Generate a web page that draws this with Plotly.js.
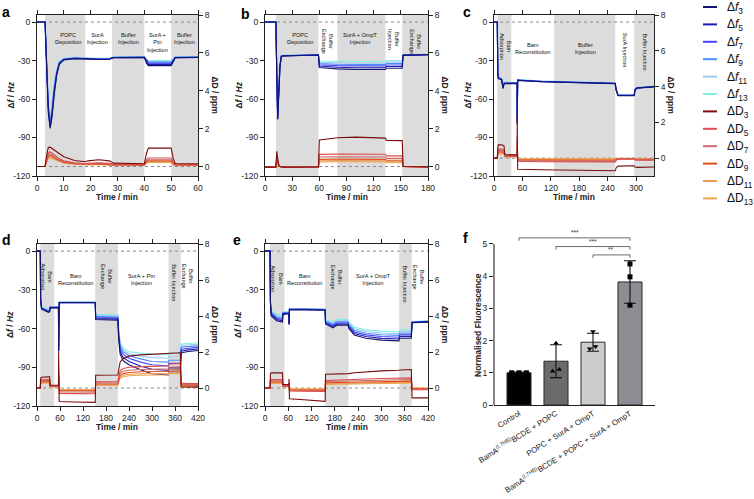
<!DOCTYPE html>
<html><head><meta charset="utf-8">
<script src="https://cdn.plot.ly/plotly-3.0.1.min.js"></script>
<style>html,body{margin:0;padding:0;background:#fff}</style>
</head><body><div id="chart" style="width:754px;height:499px"></div>
<script>
// ---------------- DATA ----------------
const fNames = ['Δ<i>f</i><sub>3</sub>','Δ<i>f</i><sub>5</sub>','Δ<i>f</i><sub>7</sub>','Δ<i>f</i><sub>9</sub>','Δ<i>f</i><sub>11</sub>','Δ<i>f</i><sub>13</sub>'];
const dNames = ['ΔD<sub>3</sub>','ΔD<sub>5</sub>','ΔD<sub>7</sub>','ΔD<sub>9</sub>','ΔD<sub>11</sub>','ΔD<sub>13</sub>'];

// Panel a
const aTime = [0, 3, 3.6, 4.2, 4.9, 5.6, 6.4, 7.3, 8.3, 10, 14, 18, 19, 23, 27, 28.5, 40, 40.8, 41.5, 50, 50.8, 51.5, 60];
const aF3  = [0, 0, -35, -70, -83, -74, -57, -42, -33, -29.5, -28.5, -28.8, -29, -29.2, -29, -27.8, -27.6, -32, -34, -34, -31, -27.8, -27.6];
const aF5  = [0, 0, -34, -68, -82, -72, -55, -41, -32.5, -29.2, -28.3, -28.6, -28.8, -29, -28.8, -27.7, -27.5, -31, -33, -33, -30, -27.7, -27.5];
const aF7  = [0, 0, -33, -66, -80, -70, -53, -40, -32, -29, -28.2, -28.5, -28.7, -28.9, -28.7, -27.6, -27.4, -30.5, -32, -32, -29.5, -27.6, -27.4];
const aF9  = [0, 0, -32, -65, -79, -68, -51, -39, -31.5, -28.8, -28, -28.3, -28.5, -28.7, -28.5, -27.5, -27.3, -30, -31.3, -31.3, -29, -27.5, -27.3];
const aF11 = [0, 0, -31, -63, -77, -66, -49, -38, -31, -28.5, -27.7, -28, -28.2, -28.4, -28.2, -27.3, -27.1, -29.5, -30.7, -30.7, -28.8, -27.3, -27.1];
const aF13 = [0, 0, -30, -61, -76, -64, -47, -37, -30.5, -28.2, -27.5, -27.8, -28, -28.2, -28, -27.1, -26.9, -29, -30, -30, -28.5, -27.1, -26.9];
const aD3  = [0, 0, 0.6, 1.0, 1.02, 0.95, 0.88, 0.8, 0.72, 0.52, 0.32, 0.25, 0.3, 0.36, 0.3, 0.18, 0.15, 0.7, 0.97, 0.97, 0.4, 0.16, 0.15];
const aD5  = [0, 0, 0.4, 0.72, 0.78, 0.7, 0.62, 0.52, 0.42, 0.3, 0.2, 0.15, 0.17, 0.2, 0.17, 0.1, 0.1, 0.35, 0.45, 0.45, 0.2, 0.1, 0.1];
const aD7  = [0, 0, 0.35, 0.62, 0.68, 0.62, 0.53, 0.44, 0.36, 0.26, 0.17, 0.13, 0.14, 0.17, 0.15, 0.09, 0.09, 0.28, 0.36, 0.36, 0.17, 0.09, 0.09];
const aD9  = [0, 0, 0.3, 0.54, 0.6, 0.55, 0.46, 0.38, 0.31, 0.22, 0.15, 0.11, 0.12, 0.14, 0.12, 0.08, 0.08, 0.24, 0.3, 0.3, 0.14, 0.08, 0.08];
const aD11 = [0, 0, 0.26, 0.47, 0.52, 0.48, 0.4, 0.33, 0.27, 0.2, 0.13, 0.1, 0.1, 0.12, 0.1, 0.07, 0.07, 0.2, 0.25, 0.25, 0.12, 0.07, 0.07];
const aD13 = [0, 0, 0.22, 0.41, 0.46, 0.42, 0.36, 0.3, 0.24, 0.18, 0.12, 0.09, 0.09, 0.1, 0.09, 0.06, 0.06, 0.17, 0.22, 0.22, 0.1, 0.06, 0.06];
const aTicks = [0, 10, 20, 30, 40, 50, 60];
const aGray = [[3, 18], [28, 40], [50, 60]];
const aLabelText = ['POPC<br>Deposition', 'SurA<br>Injection', 'Buffer<br>Injection', 'SurA +<br>Ptn<br>Injection', 'Buffer<br>Injection'];
const aLabelX = [11.5, 22.5, 34, 45, 55];
const aLabelVert = [0, 0, 0, 0, 0];

// Panel b
const bTime = [0, 12, 13, 14, 15, 16.5, 18, 20, 59, 60, 80, 100, 133, 134, 151.5, 152.5, 180];
const bF3  = [0, 0, -40, -76, -60, -35, -27, -26.5, -25.7, -35.5, -36.5, -37, -37, -36, -36, -26, -25.5];
const bF5  = [0, 0, -39.5, -75.5, -59, -34.5, -26.8, -26.4, -25.7, -34.3, -35.2, -35.6, -35.6, -34.7, -34.7, -25.9, -25.4];
const bF7  = [0, 0, -39, -75, -58, -34, -26.6, -26.3, -25.6, -33.3, -34, -34.3, -34.3, -33.5, -33.5, -25.8, -25.4];
const bF9  = [0, 0, -38.5, -74, -57.5, -33.8, -26.4, -26.2, -25.6, -32.3, -32.9, -33.2, -33.2, -32.3, -32.3, -25.7, -25.3];
const bF11 = [0, 0, -38, -73, -57, -33.5, -26.2, -26.1, -25.5, -31.3, -31.7, -32.1, -32.1, -31.2, -31.2, -25.6, -25.3];
const bF13 = [0, 0, -37, -72, -56, -33, -26, -26, -25.5, -30.3, -30.5, -31, -31, -30, -30, -25.5, -25.2];
const bD3  = [-0.03, -0.03, 0.8, 0.5, 0.12, 0, -0.02, -0.03, -0.02, 1.4, 1.52, 1.55, 1.5, 1.38, 1.37, 0, -0.02];
const bD5  = [-0.03, -0.03, 0.55, 0.35, 0.08, 0, -0.02, -0.03, -0.02, 0.64, 0.66, 0.66, 0.65, 0.56, 0.56, 0, -0.02];
const bD7  = [-0.03, -0.03, 0.46, 0.3, 0.07, 0, -0.02, -0.03, -0.02, 0.5, 0.51, 0.51, 0.5, 0.43, 0.43, 0, -0.02];
const bD9  = [-0.03, -0.03, 0.38, 0.25, 0.06, 0, -0.02, -0.03, -0.02, 0.38, 0.39, 0.39, 0.38, 0.33, 0.33, 0, -0.02];
const bD11 = [-0.03, -0.03, 0.32, 0.21, 0.05, 0, -0.02, -0.03, -0.02, 0.3, 0.31, 0.31, 0.3, 0.26, 0.26, 0, -0.02];
const bD13 = [-0.03, -0.03, 0.27, 0.18, 0.04, 0, -0.02, -0.03, -0.02, 0.24, 0.25, 0.25, 0.24, 0.2, 0.2, 0, -0.02];
const bTicks = [0, 30, 60, 90, 120, 150, 180];
const bGray = [[12, 59], [80, 133], [151.5, 180]];
const bLabelText = ['POPC<br>Deposition', 'Buffer<br>Exchange', 'SurA + OmpT<br>Injection', 'Buffer<br>Injection', 'Buffer<br>Exchange'];
const bLabelX = [39, 69, 106, 142, 166];
const bLabelVert = [0, 1, 0, 1, 1];

// Panel c
const cTime = [0, 7, 8, 9, 16, 19, 21, 23, 36, 48.9, 49, 49.1, 50, 100, 150, 200, 256, 258, 262, 296, 298, 302, 338];
const cF3  = [0, 0, -40, -44, -45, -52, -48.5, -48, -48, -48, -80, -46, -45.5, -46.5, -47, -47.5, -48, -53, -57.5, -57.5, -53, -51.5, -50.5];
const cF5  = [0, 0, -39.5, -43.8, -44.8, -51.2, -48.3, -47.8, -47.8, -47.8, -79, -45.9, -45.4, -46.4, -46.9, -47.4, -47.9, -52.8, -57.3, -57.3, -52.8, -51.4, -50.4];
const cF7  = [0, 0, -39, -43.5, -44.5, -50.5, -48, -47.6, -47.6, -47.6, -78, -45.7, -45.3, -46.3, -46.8, -47.3, -47.8, -52.6, -57.1, -57.1, -52.6, -51.3, -50.3];
const cF9  = [0, 0, -38.5, -43.2, -44.2, -49.8, -47.7, -47.4, -47.4, -47.4, -77, -45.5, -45.2, -46.2, -46.7, -47.2, -47.7, -52.4, -56.9, -56.9, -52.4, -51.2, -50.2];
const cF11 = [0, 0, -38, -42.8, -43.8, -49, -47.4, -47.2, -47.2, -47.2, -76, -45.3, -45, -46, -46.5, -47, -47.5, -52.2, -56.7, -56.7, -52.2, -51, -50];
const cF13 = [0, 0, -37.5, -42.5, -43.5, -48.5, -47.2, -47, -47, -47, -75, -45.2, -44.9, -45.9, -46.4, -46.9, -47.4, -52, -56.5, -56.5, -52, -50.9, -49.9];
const cD3  = [0, 0, 0.55, 0.74, 0.74, 0.72, 0.7, 0.2, 0.18, 0.18, 2.3, -0.6, -0.62, -0.65, -0.68, -0.7, -0.71, -0.55, -0.45, -0.43, -0.5, -0.52, -0.5];
const cD5  = [0, 0, 0.38, 0.5, 0.5, 0.48, 0.46, 0.14, 0.13, 0.13, 1.2, -0.17, -0.18, -0.2, -0.2, -0.21, -0.21, -0.12, -0.06, -0.06, -0.11, -0.12, -0.12];
const cD7  = [0, 0, 0.33, 0.42, 0.42, 0.4, 0.38, 0.12, 0.11, 0.11, 0.9, -0.13, -0.14, -0.16, -0.16, -0.17, -0.17, -0.09, -0.04, -0.04, -0.08, -0.09, -0.09];
const cD9  = [0, 0, 0.28, 0.35, 0.35, 0.33, 0.32, 0.1, 0.09, 0.09, 0.7, -0.09, -0.1, -0.11, -0.11, -0.12, -0.12, -0.06, -0.02, -0.02, -0.05, -0.06, -0.06];
const cD11 = [0, 0, 0.24, 0.3, 0.3, 0.28, 0.27, 0.08, 0.07, 0.07, 0.5, -0.06, -0.07, -0.07, -0.08, -0.08, -0.08, -0.04, -0.01, -0.01, -0.03, -0.04, -0.04];
const cD13 = [0, 0, 0.2, 0.25, 0.25, 0.24, 0.23, 0.07, 0.06, 0.06, 0.4, -0.03, -0.03, -0.04, -0.04, -0.04, -0.04, -0.02, 0, 0, -0.01, -0.02, -0.02];
const cTicks = [0, 60, 120, 180, 240, 300];
const cGray = [[7, 36.6], [127, 256], [296, 338]];
const cLabelText = ['Bam<br>Adsorption', 'Bam<br>Reconstitution', 'Buffer<br>Injection', 'SurA Injection', 'Buffer Injection'];
const cLabelX = [24, 82, 194, 276, 317];
const cLabelVert = [1, 0, 0, 1, 1];

// Panel d
const dTime = [0, 8.6, 9.5, 12, 30, 33, 34, 56, 56.5, 57, 58, 100, 152, 153, 211, 213, 217, 225, 240, 270, 300, 343, 344, 374, 376, 390, 420];
const dF3  = [0, 0, -38, -45, -47.5, -47, -44, -44, -78, -41, -40, -40, -40, -53, -53.5, -68, -80, -85, -88, -92, -95, -96, -93.5, -93.5, -79, -78, -77];
const dF5  = [0, 0, -37.6, -44.6, -47.1, -46.6, -43.8, -43.8, -77.5, -40.8, -39.9, -39.9, -39.9, -52.2, -52.7, -66, -78, -82.5, -85.5, -89, -91.5, -92.5, -90.5, -90.5, -77.5, -76.7, -75.8];
const dF7  = [0, 0, -37.2, -44.2, -46.7, -46.2, -43.6, -43.6, -77, -40.6, -39.8, -39.8, -39.8, -51.4, -51.9, -64, -76, -80, -83, -86, -88, -89, -87, -87, -76, -75.4, -74.6];
const dF9  = [0, 0, -36.8, -43.8, -46.3, -45.8, -43.4, -43.4, -76.5, -40.4, -39.7, -39.7, -39.7, -50.6, -51.1, -62.5, -74, -78, -81, -83.5, -85.5, -86, -84.5, -84.5, -74.5, -74, -73.4];
const dF11 = [0, 0, -36.4, -43.4, -45.9, -45.4, -43.2, -43.2, -76.2, -40.2, -39.6, -39.6, -39.6, -49.8, -50.3, -61, -72.5, -76.5, -79.5, -81.5, -82.5, -83, -81.5, -81.5, -73, -72.7, -72.2];
const dF13 = [0, 0, -36, -43, -45.5, -45, -43, -43, -76, -40, -39.5, -39.5, -39.5, -49, -49.5, -60, -71, -75, -78, -79, -79.7, -80.5, -79, -79, -72, -71.5, -71];
const dD3  = [0, 0, 0.55, 0.6, 0.62, 0.62, 0.15, 0.15, 2.0, -0.72, -0.75, -0.78, -0.8, 0.71, 0.72, 1.0, 1.45, 1.65, 1.77, 1.84, 1.88, 1.92, 1.94, 1.96, 0.06, 0.05, 0.05];
const dD5  = [0, 0, 0.4, 0.45, 0.47, 0.47, 0.1, 0.1, 1.0, -0.28, -0.3, -0.31, -0.32, 0.34, 0.35, 0.6, 0.95, 1.08, 1.15, 1.19, 1.21, 1.22, 1.33, 1.36, 0.27, 0.25, 0.25];
const dD7  = [0, 0, 0.35, 0.4, 0.41, 0.41, 0.09, 0.09, 0.8, -0.2, -0.22, -0.22, -0.23, 0.28, 0.29, 0.5, 0.82, 0.93, 0.99, 1.03, 1.05, 1.06, 1.15, 1.17, 0.2, 0.19, 0.19];
const dD9  = [0, 0, 0.3, 0.35, 0.36, 0.36, 0.08, 0.08, 0.6, -0.14, -0.15, -0.15, -0.16, 0.22, 0.23, 0.42, 0.7, 0.8, 0.86, 0.9, 0.92, 0.93, 1.0, 1.02, 0.15, 0.14, 0.14];
const dD11 = [0, 0, 0.26, 0.3, 0.31, 0.31, 0.07, 0.07, 0.5, -0.11, -0.12, -0.12, -0.12, 0.18, 0.19, 0.36, 0.62, 0.71, 0.76, 0.79, 0.81, 0.82, 0.88, 0.9, 0.11, 0.1, 0.1];
const dD13 = [0, 0, 0.22, 0.26, 0.27, 0.27, 0.06, 0.06, 0.4, -0.08, -0.09, -0.09, -0.1, 0.15, 0.16, 0.32, 0.55, 0.63, 0.68, 0.71, 0.73, 0.74, 0.79, 0.8, 0.08, 0.08, 0.08];
const dTicks = [0, 60, 120, 180, 240, 300, 360, 420];
const dGray = [[8.6, 45], [152, 211], [343, 375]];
const dLabelText = ['Bam<br>Adsorption', 'Bam<br>Reconstitution', 'Buffer<br>Exchange', 'SurA + Ptn<br>Injection', 'Buffer Injection', 'Buffer<br>Exchange'];
const dLabelX = [26, 100, 181, 273, 358, 393];
const dLabelVert = [1, 0, 1, 0, 1, 1];

// Panel e
const eTime = [0, 13, 14, 16, 30, 45, 46, 61.5, 62, 62.5, 63, 100, 155, 156, 175, 185, 214, 216, 230, 260, 300, 345, 347, 377, 379, 420];
const eF3  = [0, 0, -40, -50, -54, -55, -49, -48.5, -57, -47, -45.5, -45.5, -45.8, -56.5, -59.5, -57.5, -57.5, -60, -65, -67.5, -69, -69.5, -67.5, -67.5, -55.5, -55];
const eF5  = [0, 0, -39.6, -49.2, -53, -54, -48.6, -48.2, -56.6, -46.6, -45.3, -45.3, -45.6, -55.8, -58.6, -56.6, -56.6, -59, -63.8, -66.2, -67.6, -68.1, -66.2, -66.2, -55.3, -54.8];
const eF7  = [0, 0, -39.2, -48.4, -52, -53, -48.2, -47.9, -56.2, -46.2, -45.1, -45.1, -45.4, -55.1, -57.7, -55.7, -55.7, -58, -62.6, -64.9, -66.2, -66.7, -64.9, -64.9, -55.1, -54.6];
const eF9  = [0, 0, -38.8, -47.6, -51, -52, -47.8, -47.6, -55.8, -45.8, -44.9, -44.9, -45.2, -54.4, -56.8, -54.8, -54.8, -57, -61.4, -63.6, -64.8, -65.3, -63.6, -63.6, -54.9, -54.4];
const eF11 = [0, 0, -38.4, -46.8, -50, -51, -47.4, -47.3, -55.4, -45.4, -44.7, -44.7, -45, -53.7, -55.9, -53.9, -53.9, -56, -60.2, -62.3, -63.4, -63.9, -62.3, -62.3, -54.7, -54.2];
const eF13 = [0, 0, -38, -46, -49, -50, -47, -47, -55, -45, -44.5, -44.5, -44.8, -53, -55, -53, -53, -55, -59, -61, -62, -62.5, -61, -61, -54.5, -54];
const eD3  = [0, 0, 0.8, 0.84, 0.84, 0.84, 0.2, 0.19, 0.5, -0.6, -0.6, -0.65, -0.74, 0.76, 0.77, 0.78, 0.8, 0.8, 0.85, 0.9, 0.95, 0.99, 1.0, 1.03, -0.55, -0.55];
const eD5  = [0, 0, 0.45, 0.47, 0.47, 0.47, 0.12, 0.12, 0.3, -0.16, -0.17, -0.18, -0.19, 0.42, 0.43, 0.43, 0.44, 0.44, 0.47, 0.5, 0.53, 0.55, 0.55, 0.56, -0.1, -0.1];
const eD7  = [0, 0, 0.38, 0.4, 0.4, 0.4, 0.1, 0.1, 0.25, -0.13, -0.14, -0.15, -0.16, 0.36, 0.37, 0.37, 0.38, 0.38, 0.4, 0.42, 0.44, 0.46, 0.46, 0.47, -0.07, -0.07];
const eD9  = [0, 0, 0.32, 0.34, 0.34, 0.34, 0.09, 0.09, 0.2, -0.1, -0.11, -0.12, -0.12, 0.29, 0.3, 0.3, 0.31, 0.31, 0.32, 0.34, 0.36, 0.37, 0.37, 0.38, -0.04, -0.04];
const eD11 = [0, 0, 0.27, 0.29, 0.29, 0.29, 0.08, 0.08, 0.16, -0.07, -0.08, -0.08, -0.09, 0.24, 0.25, 0.25, 0.26, 0.26, 0.27, 0.28, 0.3, 0.31, 0.31, 0.31, -0.02, -0.02];
const eD13 = [0, 0, 0.23, 0.25, 0.25, 0.25, 0.07, 0.07, 0.12, -0.04, -0.05, -0.05, -0.05, 0.2, 0.21, 0.21, 0.21, 0.21, 0.22, 0.23, 0.25, 0.26, 0.26, 0.26, 0, 0];
const eTicks = [0, 60, 120, 180, 240, 300, 360, 420];
const eGray = [[13, 50], [155, 215], [346, 378]];
const eLabelText = ['Bam<br>Adsorption', 'Bam<br>Reconstitution', 'Buffer<br>Exchange', 'SurA + OmpT<br>Injection', 'Buffer Injection', 'Buffer<br>Exchange'];
const eLabelX = [31, 103, 185, 279, 361, 396];
const eLabelVert = [1, 0, 1, 0, 1, 1];

// Shared axis ticks
const fTickVals = [-120, -90, -60, -30, 0];
const fTickText = ['-120', '-90', '-60', '-30', '0'];
const dTickVals = [0, 2, 4, 6, 8];

// Panel f (bar chart)
const barCats = ['Control', 'BamA<sup>(L7HB)</sup>BCDE + POPC', 'POPC + SurA + OmpT', 'BamA<sup>(L7HB)</sup>BCDE + POPC + SurA + OmpT'];
const barVals = [1.0, 1.36, 1.95, 3.82];
const barErr = [0.02, 0.51, 0.28, 0.66];
const barColors = ['#000000', '#6b6b6b', '#cdcdcd', '#8d8d93'];
const pts0 = [1.0, 1.0, 1.0];
const pts1 = [1.92, 1.05, 1.1];
const pts2 = [2.28, 1.75, 1.82];
const pts3 = [4.38, 3.98, 3.1];
const ptsJitter0 = [-0.2, 0, 0.2];
const ptsJitter1 = [0, -0.09, 0.09];
const ptsJitter2 = [0, -0.09, 0.07];
const ptsJitter3 = [0, 0, 0];
const ptsSymbols = ['square', 'triangle-up', 'triangle-down', 'square'];
const sigPairs = [[0, 3], [1, 3], [2, 3]];
const sigText = ['***', '***', '**'];
const sigLevel = [5.19, 4.92, 4.66];

// ---------------- STYLE ----------------
const W = 754, H = 499;
const FONT = 'Liberation Sans, Arial, sans-serif';
const fColors = ['#14146e', '#1c1cb0', '#4545ff', '#4a8cff', '#9ccaf2', '#7feee8'];
const dColors = ['#7a0c0c', '#e04b4b', '#c86a6a', '#e0501e', '#e89a5a', '#f2a64a'];
const px = v => v / W;
const py = v => 1 - v / H;

const panels = [
  {time: aTime, f: [aF3, aF5, aF7, aF9, aF11, aF13], d: [aD3, aD5, aD7, aD9, aD11, aD13], xr: [0, 60], xt: aTicks, dr: [-0.5, 8], gray: aGray, lt: aLabelText, lx: aLabelX, lv: aLabelVert, box: {l: 37, r: 198, t: 15, b: 176}, hOff: 15, vOff: 12, letter: 'a', lp: [6, 12]},
  {time: bTime, f: [bF3, bF5, bF7, bF9, bF11, bF13], d: [bD3, bD5, bD7, bD9, bD11, bD13], xr: [0, 180], xt: bTicks, dr: [-0.5, 8], gray: bGray, lt: bLabelText, lx: bLabelX, lv: bLabelVert, box: {l: 265, r: 428, t: 15, b: 176}, hOff: 15, vOff: 12, letter: 'b', lp: [245, 14]},
  {time: cTime, f: [cF3, cF5, cF7, cF9, cF11, cF13], d: [cD3, cD5, cD7, cD9, cD11, cD13], xr: [0, 338], xt: cTicks, dr: [-1, 8], gray: cGray, lt: cLabelText, lx: cLabelX, lv: cLabelVert, box: {l: 494, r: 654, t: 15, b: 176}, hOff: 25, vOff: 16, letter: 'c', lp: [467, 12]},
  {time: dTime, f: [dF3, dF5, dF7, dF9, dF11, dF13], d: [dD3, dD5, dD7, dD9, dD11, dD13], xr: [0, 420], xt: dTicks, dr: [-1, 8], gray: dGray, lt: dLabelText, lx: dLabelX, lv: dLabelVert, box: {l: 37, r: 198, t: 244, b: 406}, hOff: 27, vOff: 18, letter: 'd', lp: [6, 240]},
  {time: eTime, f: [eF3, eF5, eF7, eF9, eF11, eF13], d: [eD3, eD5, eD7, eD9, eD11, eD13], xr: [0, 420], xt: eTicks, dr: [-1, 8], gray: eGray, lt: eLabelText, lx: eLabelX, lv: eLabelVert, box: {l: 265, r: 428, t: 244, b: 406}, hOff: 27, vOff: 19, letter: 'e', lp: [237, 240]}
];

const traces = [];
const shapes = [];
const annotations = [];
const layout = {
  width: W, height: H, margin: {l: 0, r: 0, t: 0, b: 0},
  paper_bgcolor: '#ffffff', plot_bgcolor: 'rgba(0,0,0,0)',
  showlegend: false, font: {family: FONT, color: '#222', size: 9}
};
const axName = (c, n) => n === 1 ? c + 'axis' : c + 'axis' + n;
const axRef = (c, n) => n === 1 ? c : c + n;
const tickFont = {family: FONT, size: 8.5, color: '#222'};
const axisCommon = {showline: true, linecolor: '#222', linewidth: 1.1, ticks: 'outside', ticklen: 4, tickwidth: 1, tickcolor: '#222', tickfont: tickFont, zeroline: false, showgrid: false, fixedrange: true, automargin: false};

panels.forEach((p, k) => {
  const xn = k + 1, yl = 2 * k + 1, yr = 2 * k + 2;
  const xr = axRef('x', xn), ylr = axRef('y', yl), yrr = axRef('y', yr);
  const b = p.box;
  // draw higher overtones first so the fundamental (darkest) lies on top
  for (let i = p.f.length - 1; i >= 0; i--) {
    traces.push({type: 'scatter', mode: 'lines', x: p.time, y: p.f[i], xaxis: xr, yaxis: ylr, line: {color: fColors[i], width: 1.1}, hoverinfo: 'skip', showlegend: false});
  }
  for (let i = p.d.length - 1; i >= 0; i--) {
    traces.push({type: 'scatter', mode: 'lines', x: p.time, y: p.d[i], xaxis: xr, yaxis: yrr, line: {color: dColors[i], width: 1.1}, hoverinfo: 'skip', showlegend: false});
  }
  layout[axName('x', xn)] = Object.assign({}, axisCommon, {domain: [px(b.l), px(b.r)], range: p.xr, anchor: ylr, tickvals: p.xt, mirror: 'ticks'});
  layout[axName('y', yl)] = Object.assign({}, axisCommon, {domain: [py(b.b), py(b.t)], range: [-120, 5.5], anchor: xr, tickvals: fTickVals, ticktext: fTickText});
  layout[axName('y', yr)] = Object.assign({}, axisCommon, {overlaying: ylr, side: 'right', range: p.dr, anchor: xr, tickvals: dTickVals});
  p.gray.forEach(g => shapes.push({type: 'rect', xref: xr, yref: ylr + ' domain', x0: g[0], x1: g[1], y0: 0, y1: 1, fillcolor: '#dcdcdc', line: {width: 0}, layer: 'below'}));
  shapes.push({type: 'line', xref: xr + ' domain', yref: ylr, x0: 0, x1: 1, y0: 0, y1: 0, line: {color: '#8a8a8a', width: 1, dash: 'dot'}, layer: 'below'});
  shapes.push({type: 'line', xref: xr + ' domain', yref: yrr, x0: 0, x1: 1, y0: 0, y1: 0, line: {color: '#8a8a8a', width: 1, dash: 'dot'}, layer: 'below'});
  p.lt.forEach((t, i) => {
    const vert = p.lv[i] === 1;
    annotations.push({xref: xr, yref: 'paper', x: p.lx[i], y: py(b.t + (vert ? p.vOff : p.hOff)), text: t, showarrow: false, textangle: vert ? 90 : 0, xanchor: 'center', yanchor: 'top', align: 'center', font: {family: FONT, size: 5.6, color: '#111'}});
  });
  annotations.push({xref: 'paper', yref: 'paper', x: px((b.l + b.r) / 2), y: py(b.b + 21), text: '<b>Time / min</b>', showarrow: false, xanchor: 'center', yanchor: 'middle', font: {family: FONT, size: 8.5, color: '#222'}});
  annotations.push({xref: 'paper', yref: 'paper', x: px(b.l - 27), y: py((b.t + b.b) / 2), text: '<b>Δ<i>f</i> / <i>Hz</i></b>', showarrow: false, textangle: -90, xanchor: 'center', yanchor: 'middle', font: {family: FONT, size: 8.5, color: '#222'}});
  annotations.push({xref: 'paper', yref: 'paper', x: px(b.r + 17), y: py((b.t + b.b) / 2), text: '<b>ΔD / ppm</b>', showarrow: false, textangle: 90, xanchor: 'center', yanchor: 'middle', font: {family: FONT, size: 8.5, color: '#222'}});
  annotations.push({xref: 'paper', yref: 'paper', x: px(p.lp[0]), y: py(p.lp[1]), text: '<b>' + p.letter + '</b>', showarrow: false, xanchor: 'center', yanchor: 'middle', font: {family: FONT, size: 14, color: '#000'}});
});

// ---------------- Panel f ----------------
const fx = 'x6', fy = 'y11';
const catIdx = barCats.map((c, i) => i);
traces.push({type: 'bar', x: catIdx, y: barVals, xaxis: fx, yaxis: fy, width: 0.65, marker: {color: barColors, line: {color: '#2a2a2a', width: 1}}, error_y: {type: 'data', array: barErr, visible: true, color: '#111', thickness: 1.1, width: 6}, hoverinfo: 'skip', showlegend: false});
const ptsSets = [pts0, pts1, pts2, pts3];
const jitSets = [ptsJitter0, ptsJitter1, ptsJitter2, ptsJitter3];
ptsSets.forEach((vals, i) => {
  traces.push({type: 'scatter', mode: 'markers', x: vals.map((v, j) => catIdx[i] + jitSets[i][j]), y: vals, xaxis: fx, yaxis: fy, marker: {symbol: ptsSymbols[i], size: 5, color: '#000'}, hoverinfo: 'skip', showlegend: false, cliponaxis: false});
});
const fb = {l: 494, r: 655, t: 232.7, b: 405};
layout.xaxis6 = Object.assign({}, axisCommon, {domain: [px(fb.l), px(fb.r)], range: [-0.676, 3.676], anchor: fy, tickvals: catIdx, ticktext: barCats, ticks: '', tickangle: -32, tickfont: {family: FONT, size: 7.8, color: '#222'}});
layout.yaxis11 = Object.assign({}, axisCommon, {domain: [py(fb.b), py(fb.t)], range: [0, 5.35], anchor: fx, tickvals: [0, 1, 2, 3, 4, 5], showline: false});
shapes.push({type: 'line', xref: 'x6 domain', yref: fy, x0: 0, x1: 0, y0: 0, y1: 5, line: {color: '#222', width: 1.1}});
sigPairs.forEach((pr, i) => {
  const y = sigLevel[i];
  shapes.push({type: 'path', xref: fx, yref: fy, path: 'M ' + pr[0] + ',' + (y - 0.09) + ' L ' + pr[0] + ',' + y + ' L ' + pr[1] + ',' + y + ' L ' + pr[1] + ',' + (y - 0.09), line: {color: '#444', width: 0.8}});
  annotations.push({xref: fx, yref: fy, x: (pr[0] + pr[1]) / 2, y: y, text: sigText[i], showarrow: false, xanchor: 'center', yanchor: 'bottom', font: {family: FONT, size: 6.5, color: '#333'}});
});
annotations.push({xref: 'paper', yref: 'paper', x: px(478), y: py(325), text: '<b>Normalised Fluorescence</b>', showarrow: false, textangle: -90, xanchor: 'center', yanchor: 'middle', font: {family: FONT, size: 8.5, color: '#222'}});
annotations.push({xref: 'paper', yref: 'paper', x: px(465), y: py(238), text: '<b>f</b>', showarrow: false, xanchor: 'center', yanchor: 'middle', font: {family: FONT, size: 14, color: '#000'}});

// ---------------- Legend (manual) ----------------
const legNames = fNames.concat(dNames);
const legColors = fColors.concat(dColors);
legNames.forEach((n, i) => {
  const y = 7 + 17.4 * i;
  shapes.push({type: 'line', xref: 'paper', yref: 'paper', x0: px(703), x1: px(717), y0: py(y), y1: py(y), line: {color: legColors[i], width: 2}});
  annotations.push({xref: 'paper', yref: 'paper', x: px(725), y: py(y + 1), text: n, showarrow: false, xanchor: 'left', yanchor: 'middle', font: {family: FONT, size: 12, color: '#111'}});
});

layout.shapes = shapes;
layout.annotations = annotations;
Plotly.newPlot('chart', traces, layout, {displayModeBar: false, staticPlot: true});
</script></body></html>
